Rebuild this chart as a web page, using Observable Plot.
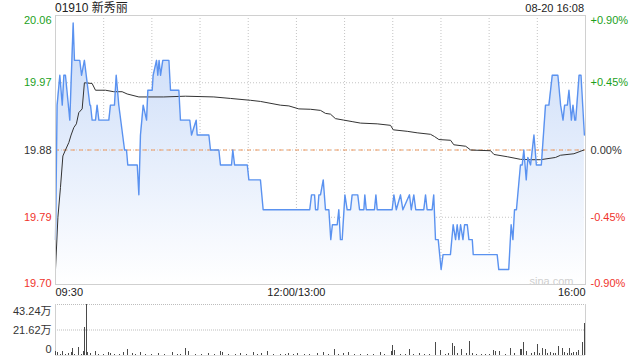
<!DOCTYPE html>
<html><head><meta charset="utf-8">
<script src="https://cdn.jsdelivr.net/npm/d3@7"></script>
<script src="https://cdn.jsdelivr.net/npm/@observablehq/plot@0.6"></script>
<style>
body{margin:0;background:#fff;}
#wrap{position:relative;width:640px;height:360px;overflow:hidden;font-family:"Liberation Sans",Arial,"Noto Sans CJK SC",sans-serif;}
#title{position:absolute;left:55px;top:1px;font-size:12px;color:#222;line-height:14px;white-space:nowrap;}
#stamp{position:absolute;right:56px;top:1px;font-size:11px;color:#222;line-height:14px;white-space:nowrap;}
#price{position:absolute;left:0;top:0;}
#vol{position:absolute;left:0;top:298px;}
</style></head><body>
<div id="wrap"><div id="price"></div><div id="vol"></div><div id="title"></div><div id="stamp"></div></div>
<script>
const titleText = "01910 新秀丽";
const stampText = "08-20 16:08";
const prevClose = 19.88;
const priceTicks = [20.06, 19.97, 19.88, 19.79, 19.70];
const pctLabels = ["+0.90%", "+0.45%", "0.00%", "-0.45%", "-0.90%"];
const timeTicks = [0, 150, 330];
const timeLabels = ["09:30", "12:00/13:00", "16:00"];
const gridMinutes = [30, 60, 90, 120, 150, 180, 210, 240, 270, 300];
const volTicks = [43.24, 21.62, 0];
const volLabels = ["43.24万", "21.62万", "0"];

// [minute since 09:30 (trading minutes), price]
const priceSeries = [
[0,19.76],[1,19.94],[2.7,19.98],[4.2,19.94],[5.2,19.98],[6.2,19.98],[8.9,19.92],[11,20.05],[11.8,20.00],[15.1,20.00],
[16.2,19.98],[18,20.00],[21.4,19.94],[21.8,19.94],[22.8,19.92],[24.9,19.92],[25.9,19.94],[27,19.92],[33.2,19.92],[34.2,19.94],
[36.7,19.94],[37.8,19.98],[39.4,19.94],[43,19.88],[44.2,19.88],[45,19.86],[50.9,19.86],[51.9,19.82],[52.9,19.90],[54.6,19.94],
[56.7,19.92],[57.5,19.96],[60.2,19.96],[60.8,19.98],[62.9,20.00],[63.7,19.98],[64.5,20.00],[65.4,19.98],[66.8,20.00],[70.6,20.00],
[71.6,19.96],[76.8,19.96],[77.8,19.92],[83.6,19.92],[84.7,19.90],[87.6,19.92],[88.2,19.90],[95.5,19.90],[96.5,19.88],[101.7,19.88],
[102.7,19.86],[109.6,19.86],[110.4,19.88],[111.5,19.86],[119.4,19.86],[120.4,19.84],[127.6,19.84],[129.3,19.80],[158.3,19.80],[159.4,19.82],
[161.3,19.82],[161.9,19.80],[163.3,19.80],[164,19.82],[165,19.82],[166.7,19.84],[168.1,19.80],[170.2,19.80],[171.4,19.76],[172.4,19.78],
[175.4,19.78],[176.4,19.80],[177.4,19.76],[178.5,19.76],[180.2,19.82],[181.6,19.80],[183.7,19.80],[184.7,19.82],[188.2,19.82],[189.3,19.80],
[192,19.80],[192.6,19.82],[193.5,19.80],[198.6,19.80],[199.5,19.82],[200.3,19.80],[209.6,19.80],[210.7,19.82],[212.2,19.80],[214.8,19.82],
[216.3,19.80],[220.4,19.82],[221.5,19.80],[223.1,19.82],[224.3,19.80],[229.3,19.80],[230.4,19.82],[231.4,19.80],[234.5,19.80],[235.5,19.82],
[236.6,19.76],[238.3,19.76],[240.1,19.72],[241.3,19.74],[245.9,19.74],[247.6,19.78],[249.1,19.76],[250.1,19.78],[251.2,19.76],[252.2,19.78],
[253.7,19.76],[254.7,19.78],[256.4,19.78],[257.4,19.76],[259.5,19.76],[260.1,19.74],[275,19.74],[276,19.72],[282.2,19.72],[283.7,19.78],
[284.8,19.76],[285.8,19.80],[287,19.80],[289.5,19.86],[290.6,19.86],[291.6,19.88],[293.1,19.84],[294.1,19.87],[295.8,19.86],[297.9,19.90],
[299.4,19.86],[302.5,19.86],[305.1,19.94],[307.2,19.94],[309.3,19.98],[312.8,19.98],[314.5,19.94],[316,19.92],[317,19.94],[318.7,19.94],
[319.7,19.96],[321.2,19.92],[322.2,19.94],[323.3,19.92],[323.9,19.92],[326,19.98],[327.2,19.98],[329.3,19.90]
];

// [minute, average price]
const avgSeries = [
[0,19.72],[1.5,19.79],[3.1,19.83],[4.6,19.872],[6.2,19.88],[8.3,19.89],[9.7,19.90],[11.4,19.91],[13,19.915],[14.5,19.93],
[16.6,19.935],[18,19.97],[22.8,19.969],[24.9,19.96],[31.1,19.96],[36.3,19.958],[41.5,19.958],[44.6,19.955],[51.9,19.951],[67.4,19.951],
[80.9,19.952],[98.6,19.951],[109,19.949],[121.4,19.9465],[127.6,19.945],[140,19.94],[145.3,19.939],[151.5,19.935],[158.8,19.9345],[165,19.933],
[168.1,19.929],[171.2,19.928],[174.3,19.922],[179.5,19.92],[184.7,19.918],[189.9,19.916],[200.3,19.915],[208.6,19.913],[210.3,19.907],[219,19.905],
[225.2,19.903],[233.5,19.901],[236,19.898],[238.7,19.894],[246,19.893],[248,19.887],[255.4,19.885],[258.5,19.88],[270.9,19.879],[273,19.874],
[281.3,19.871],[289.5,19.8675],[295.8,19.867],[302,19.867],[311.3,19.87],[314.5,19.873],[322.8,19.875],[329,19.88]
];

// [minute, volume in 万]
const volSeries = [
[0,3.7],[1.5,2.8],[3,1.2],[4.6,3.4],[6,1.0],[8,1.4],[9.8,2.3],[10.4,5.7],[12,1.0],[14.5,7.1],[16,1.2],[17.6,3.4],[18.3,24.0],[19.3,43.24],[20.1,2.3],
[22,1.4],[24.9,3.4],[27,1.0],[30,1.2],[33.2,2.3],[34.2,1.4],[37,1.0],[40,1.2],[42.5,2.3],[44.6,4.8],[48,1.4],[50,1.0],[52.9,2.3],[56,1.2],[60,1.0],
[64,1.4],[68,1.0],[72.6,2.3],[76,1.2],[78,1.0],[80.9,5.7],[83,3.4],[87,1.2],[91,1.0],[95,1.4],[99,1.0],[102.7,3.4],[103.8,2.3],[108,1.2],[112,1.0],
[115.2,1.7],[119,1.2],[123.1,2.3],[126,1.0],[128,1.7],[132.2,3.4],[136,1.2],[140,1.0],[143,1.2],[145.3,1.7],[148,1.0],[150.5,1.7],[155,1.2],[158,1.0],
[162.9,1.7],[167.1,2.8],[170,1.2],[173.9,4.8],[176,1.0],[179.5,2.0],[182.6,2.3],[186,1.2],[190,1.0],[194,1.2],[198,1.0],[202.4,2.8],[205,1.2],
[209.2,3.4],[210,8.5],[211.1,4.2],[215,1.2],[218,1.0],[220.6,4.8],[223,1.2],[226.7,2.0],[230,1.2],[233,1.0],[236.6,11.3],[239.9,4.2],[243,1.2],
[245,1.4],[247.4,10.5],[248.4,7.9],[250.1,2.0],[252.6,5.1],[255.7,2.0],[258,11.9],[259.5,1.4],[262,1.2],[265,1.0],[268,1.2],[270,1.0],[273,4.2],
[274,3.4],[276.6,3.4],[280,1.2],[283.3,5.7],[286,1.4],[289.5,5.1],[290.2,5.1],[291.6,10.7],[293.3,3.7],[296.4,2.0],[298.4,2.8],[299.9,9.0],
[301.5,1.4],[303,5.7],[305.1,5.1],[306.5,1.7],[308.2,2.8],[310,1.4],[311.5,1.7],[313.4,7.9],[315.5,5.7],[317.1,2.3],[318.5,1.7],[320,5.7],
[321.5,2.0],[322.7,2.8],[324.2,2.8],[325.8,4.2],[327.9,10.7],[329.6,26.9]
];

document.getElementById("title").textContent = titleText;
document.getElementById("stamp").textContent = stampText;

const GREEN = "#1c9f1c", RED = "#f0332b", DARK = "#333";
const colorOf = p => p > prevClose + 1e-9 ? GREEN : (p < prevClose - 1e-9 ? RED : DARK);
const pts = priceSeries.map(([m, p]) => ({m, p}));
const avg = avgSeries.map(([m, p]) => ({m, p}));
const vol = volSeries.map(([m, v]) => ({m, v}));
const labs = priceTicks.map((p, i) => ({p, pct: pctLabels[i], i, c: colorOf(p)}));
const n = labs.length;
const anchors = i => i === 0 ? {lineAnchor: "top", dy: 1} : (i === n - 1 ? {lineAnchor: "bottom", dy: 2} : {lineAnchor: "middle", dy: 0});
const font = {fontFamily: "'Liberation Sans', Arial, 'Noto Sans CJK SC', sans-serif", fontSize: "11px", background: "transparent", overflow: "visible"};

const labelMarks = [];
labs.forEach((d, i) => {
  const a = anchors(i);
  labelMarks.push(Plot.text([d], {y: "p", text: d => d.p.toFixed(2), frameAnchor: "left", textAnchor: "end", dx: -4, fill: "c", ...a}));
  labelMarks.push(Plot.text([d], {y: "p", text: "pct", frameAnchor: "right", textAnchor: "start", dx: 5, fill: "c", ...a}));
});
const tAnch = ["start", "middle", "end"];
timeTicks.forEach((t, i) => {
  labelMarks.push(Plot.text([t], {x: d => d, text: () => timeLabels[i], frameAnchor: "bottom", lineAnchor: "top", dy: 4, textAnchor: tAnch[i], fill: "#222"}));
});

const priceSvg = Plot.plot({
  width: 640, height: 300,
  marginLeft: 55, marginRight: 55, marginTop: 15, marginBottom: 16,
  x: {domain: [0, 330], axis: null},
  y: {domain: [19.70, 20.06], axis: null},
  color: {type: "identity"},
  style: font,
  marks: [
    Plot.ruleX(gridMinutes, {stroke: "#c4c4c4", strokeDasharray: "1,2"}),
    Plot.ruleY([priceTicks[1], priceTicks[3]], {stroke: "#c4c4c4", strokeDasharray: "1,2"}),
    Plot.areaY(pts, {x: "m", y1: 19.70, y2: "p", fill: "url(#pgrad)"}),
    Plot.ruleY([prevClose], {stroke: "#c4c4c4", strokeDasharray: "1,2"}),
    Plot.ruleY([prevClose], {stroke: "#f09a60", strokeDasharray: "4,4"}),
    Plot.line(avg, {x: "m", y: "p", stroke: "#333", strokeWidth: 1}),
    Plot.line(pts, {x: "m", y: "p", stroke: "#5a92f0", strokeWidth: 1.4}),
    Plot.frame({stroke: "#d0d0d0"}),
    Plot.text(["sina.com"], {frameAnchor: "bottom-right", textAnchor: "end", lineAnchor: "bottom", dx: -12, dy: 0, fill: "#cfcfcf", fontSize: 11}),
    ...labelMarks
  ]
});
const ns = "http://www.w3.org/2000/svg";
const defs = document.createElementNS(ns, "defs");
defs.innerHTML = '<linearGradient id="pgrad" x1="0" y1="15" x2="0" y2="284" gradientUnits="userSpaceOnUse"><stop offset="0" stop-color="#c8daf8"/><stop offset="1" stop-color="#ffffff"/></linearGradient>';
priceSvg.prepend(defs);
document.getElementById("price").appendChild(priceSvg);

const vAnch = [{lineAnchor: "top", dy: 3}, {lineAnchor: "middle", dy: 0}, {lineAnchor: "bottom", dy: -3}];
const volSvg = Plot.plot({
  width: 640, height: 62,
  marginLeft: 55, marginRight: 55, marginTop: 6, marginBottom: 5,
  x: {domain: [0, 330], axis: null},
  y: {domain: [0, volTicks[0]], axis: null},
  style: font,
  marks: [
    Plot.ruleY([volTicks[0], volTicks[1]], {stroke: "#bdbdbd", strokeDasharray: "1,1"}),
    Plot.ruleY([0], {stroke: "#e2e2e2"}),
    Plot.ruleX([0, 330], {stroke: "#d0d0d0"}),
    Plot.ruleX(vol, {x: "m", y1: 0, y2: "v", stroke: "#4a4a4a", shapeRendering: "crispEdges"}),
    ...volTicks.map((t, i) => Plot.text([t], {y: d => d, text: () => volLabels[i], frameAnchor: "left", textAnchor: "end", dx: -4, fill: "#333", ...vAnch[i]}))
  ]
});
document.getElementById("vol").appendChild(volSvg);
</script>
</body></html>
